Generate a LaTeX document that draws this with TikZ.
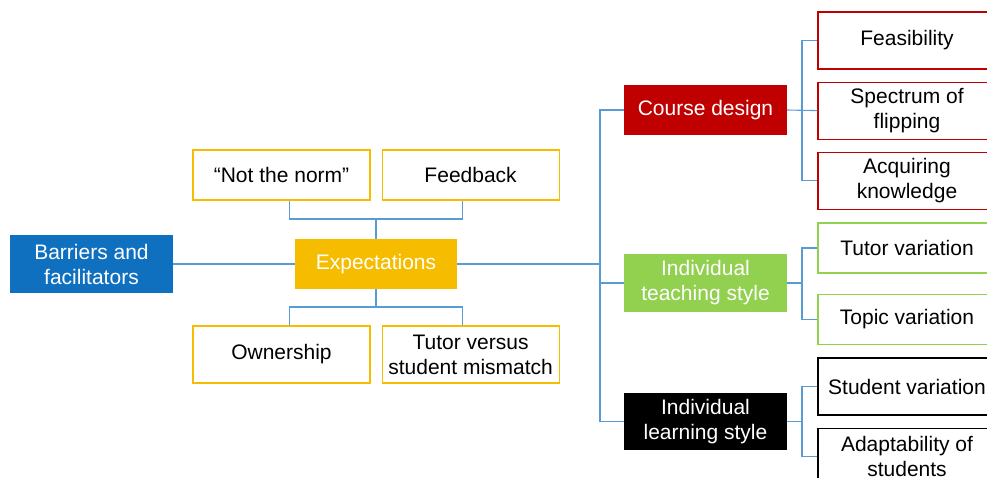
\documentclass[tikz,border=0pt]{standalone}
\usepackage{fontspec}
\setmainfont{Liberation Sans}
\usetikzlibrary{positioning}

\definecolor{barblue}{HTML}{1070C0}
\definecolor{expgold}{HTML}{F5BC00}
\definecolor{cdred}{HTML}{C00000}
\definecolor{tsgreen}{HTML}{92D050}
\definecolor{linkblue}{HTML}{5B9BD5}

\begin{document}
\begin{tikzpicture}[
  x=1pt, y=-1pt,
  font=\fontsize{21}{25}\selectfont,
  main/.style={fill=#1, text=white, align=center, minimum width=163pt, inner xsep=1pt},
  sub/.style={draw=#1, line width=1.1pt, fill=white, align=center, minimum width=177pt, inner xsep=1pt},
  link/.style={draw=linkblue, line width=1.1pt}
]
\useasboundingbox (0,0) rectangle (987,477);
\clip (0,0) rectangle (987,477);

% Root and first level
\node[main=barblue, minimum height=58pt] (bar) at (91.5,264) {Barriers and\\facilitators};
\node[main=expgold, minimum width=162pt, minimum height=50pt] (exp) at (376,264) {Expectations};

% Expectations children
\node[sub=expgold, minimum height=50pt] (norm) at (281.5,175) {``Not the norm''};
\node[sub=expgold, minimum height=50pt, right=11pt of norm] (feed) {Feedback};
\node[sub=expgold, minimum height=57pt] (own) at (281.5,354.5) {Ownership};
\node[sub=expgold, minimum height=57pt, right=11pt of own] (tvs) {Tutor versus\\student mismatch};

% Second level
\node[main=cdred, minimum height=50pt] (course) at (705.5,110) {Course design};
\node[main=tsgreen, minimum height=58pt] (its) at (705.5,283) {Individual\\teaching style};
\node[main=black, minimum height=57pt] (ils) at (705.5,421.5) {Individual\\learning style};

% Leaves
\node[sub=cdred, minimum width=178pt, minimum height=57pt] (feas) at (907,40.5) {Feasibility};
\node[sub=cdred, minimum width=178pt, minimum height=57pt, below=12pt of feas] (spec) {Spectrum of\\flipping};
\node[sub=cdred, minimum width=178pt, minimum height=57pt, below=12pt of spec] (acq) {Acquiring\\knowledge};
\node[sub=tsgreen, minimum width=178pt, minimum height=50pt] (tutv) at (907,248) {Tutor variation};
\node[sub=tsgreen, minimum width=178pt, minimum height=50pt, below=20pt of tutv] (topv) {Topic variation};
\node[sub=black, minimum width=178pt, minimum height=57pt] (stuv) at (907,386.5) {Student variation};
\node[sub=black, minimum width=178pt, minimum height=57pt, below=12pt of stuv] (adap) {Adaptability of\\students};

% Junctions
\coordinate (upj) at (376,219);
\coordinate (dnj) at (376,307);
\coordinate (tk) at (600,264);
\coordinate (cdj) at (802,110);
\coordinate (itj) at (802,283);
\coordinate (ilj) at (802,421.5);

% Connectors
\draw[link] (bar) -- (exp);
\draw[link] ([xshift=8pt]norm.south) |- (upj) -| ([xshift=-8pt]feed.south);
\draw[link] (upj) -- (exp.north);
\draw[link] ([xshift=8pt]own.north) |- (dnj) -| ([xshift=-8pt]tvs.north);
\draw[link] (dnj) -- (exp.south);
\draw[link] (exp.east) -- (tk);
\draw[link] (course.west) -| (tk) |- (ils.west);
\draw[link] (its.west) -| (tk);
\draw[link] (course.east) -- (spec.west);
\draw[link] (feas.west) -| (cdj) |- (acq.west);
\draw[link] (its.east) -- (itj);
\draw[link] (tutv.west) -| (itj) |- (topv.west);
\draw[link] (ils.east) -- (ilj);
\draw[link] (stuv.west) -| (ilj) |- (adap.west);

\end{tikzpicture}
\end{document}
